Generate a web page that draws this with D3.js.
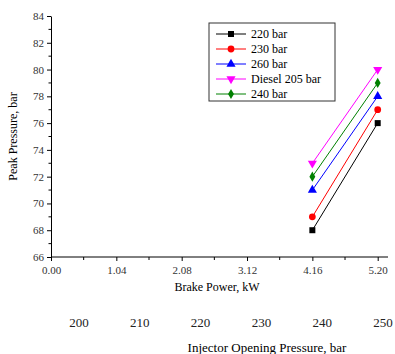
<!doctype html>
<html lang='en'>
<head>
  <meta charset='utf-8'>
  <title>Peak Pressure</title>
  <style>
    html, body { margin: 0; padding: 0; background: #fff; }
  </style>
</head>
<body>
  <script src='https://d3js.org/d3.v7.min.js'></script>
  <script>
    const brakePower = [4.16, 5.20]
    const seriesNames = ['220 bar', '230 bar', '260 bar', 'Diesel 205 bar', '240 bar']
    const seriesColors = ['#000000', '#ff0000', '#0000ff', '#ff00ff', '#008000']
    const seriesSymbols = ['square', 'circle', 'triangle', 'triangleDown', 'diamond']
    const peak220 = [68, 76]
    const peak230 = [69, 77]
    const peak260 = [71, 78]
    const peakDiesel = [73, 80]
    const peak240 = [72, 79]
    const xTicks = [0, 1.04, 2.08, 3.12, 4.16, 5.20]
    const iopTicks = [200, 210, 220, 230, 240, 250]

    const seriesValues = [peak220, peak230, peak260, peakDiesel, peak240]

    const serif = "'Liberation Serif', 'Times New Roman', 'DejaVu Serif', serif"
    const width = 395
    const height = 354

    const svg = d3.select('body').append('svg')
      .attr('width', width)
      .attr('height', height)
      .style('font-family', serif)

    const x = d3.scaleLinear().domain([0, 5.2]).range([51, 377.7])
    const y = d3.scaleLinear().domain([66, 84]).range([257, 16])

    // bottom axis
    const xAxis = svg.append('g')
      .attr('transform', `translate(0,${y(66)})`)
      .call(d3.axisBottom(x).tickValues(xTicks).tickFormat(d3.format('.2f')).tickSize(4).tickSizeOuter(0))
    xAxis.select('.domain').remove()
    svg.append('line')
      .attr('x1', x(0)).attr('x2', 388)
      .attr('y1', y(66)).attr('y2', y(66))
      .attr('stroke', '#000')
    svg.append('g')
      .attr('transform', `translate(0,${y(66)})`)
      .selectAll('line')
      .data(xTicks.slice(0, -1).map(d => d + 0.52))
      .join('line')
      .attr('x1', d => x(d)).attr('x2', d => x(d))
      .attr('y1', 0).attr('y2', 3)
      .attr('stroke', '#000')
    xAxis.attr('font-family', serif).attr('font-size', 11)
    xAxis.selectAll('.tick text').attr('dy', '0.9em').attr('fill', '#333')

    // left axis
    const yAxis = svg.append('g')
      .attr('transform', `translate(${x(0)},0)`)
      .call(d3.axisLeft(y).tickValues(d3.range(66, 85, 2)).tickSize(4).tickSizeOuter(0))
    svg.append('g')
      .attr('transform', `translate(${x(0)},0)`)
      .selectAll('line')
      .data(d3.range(67, 84, 2))
      .join('line')
      .attr('x1', 0).attr('x2', -2.5)
      .attr('y1', d => y(d)).attr('y2', d => y(d))
      .attr('stroke', '#000')
    yAxis.attr('font-family', serif).attr('font-size', 11)
    yAxis.selectAll('.tick text').attr('x', -7).attr('fill', '#333')

    // second x scale (injector opening pressure), labels only
    const iop = d3.scaleLinear().domain([200, 250]).range([79, 383])
    svg.append('g')
      .selectAll('text')
      .data(iopTicks)
      .join('text')
      .attr('x', d => iop(d))
      .attr('y', 327)
      .attr('text-anchor', 'middle')
      .style('font-size', '13px')
      .attr('fill', '#222')
      .text(d => d)

    svg.append('text')
      .attr('x', 217).attr('y', 291)
      .attr('text-anchor', 'middle')
      .style('font-size', '12px')
      .text('Brake Power, kW')

    svg.append('text')
      .attr('x', 267).attr('y', 352)
      .attr('text-anchor', 'middle')
      .style('font-size', '13px')
      .text('Injector Opening Pressure, bar')

    svg.append('text')
      .attr('transform', `translate(17,${y(75)}) rotate(-90)`)
      .attr('text-anchor', 'middle')
      .style('font-size', '12px')
      .text('Peak Pressure, bar')

    const symbolType = {
      square: d3.symbolSquare,
      circle: d3.symbolCircle,
      triangle: d3.symbolTriangle,
      triangleDown: d3.symbolTriangle,
      diamond: d3.symbolDiamond
    }

    const drawSymbol = (g, name, color, cx, cy) => {
      const rot = name === 'triangleDown' ? 180 : 0
      g.append('path')
        .attr('d', d3.symbol().type(symbolType[name]).size(name === 'diamond' ? 30 : 36)())
        .attr('transform', `translate(${cx},${cy}) rotate(${rot})`)
        .attr('fill', color)
    }

    const line = d3.line().x(d => x(d[0])).y(d => y(d[1]))

    seriesValues.forEach((vals, i) => {
      const pts = brakePower.map((b, j) => [b, vals[j]])
      svg.append('path')
        .attr('d', line(pts))
        .attr('fill', 'none')
        .attr('stroke', seriesColors[i])
        .attr('stroke-width', 1)
      const g = svg.append('g')
      pts.forEach(p => drawSymbol(g, seriesSymbols[i], seriesColors[i], x(p[0]), y(p[1])))
    })

    // legend
    const legend = svg.append('g')
    legend.append('rect')
      .attr('x', 209).attr('y', 23)
      .attr('width', 126).attr('height', 78)
      .attr('fill', '#fff')
      .attr('stroke', '#333')
      .attr('stroke-width', 1)
    seriesNames.forEach((name, i) => {
      const ly = 34 + i * 15
      legend.append('line')
        .attr('x1', 216).attr('x2', 246)
        .attr('y1', ly).attr('y2', ly)
        .attr('stroke', seriesColors[i])
      drawSymbol(legend, seriesSymbols[i], seriesColors[i], 231, ly)
      legend.append('text')
        .attr('x', 251).attr('y', ly + 4)
        .style('font-size', '12px')
        .text(name)
    })
  </script>
</body>
</html>
